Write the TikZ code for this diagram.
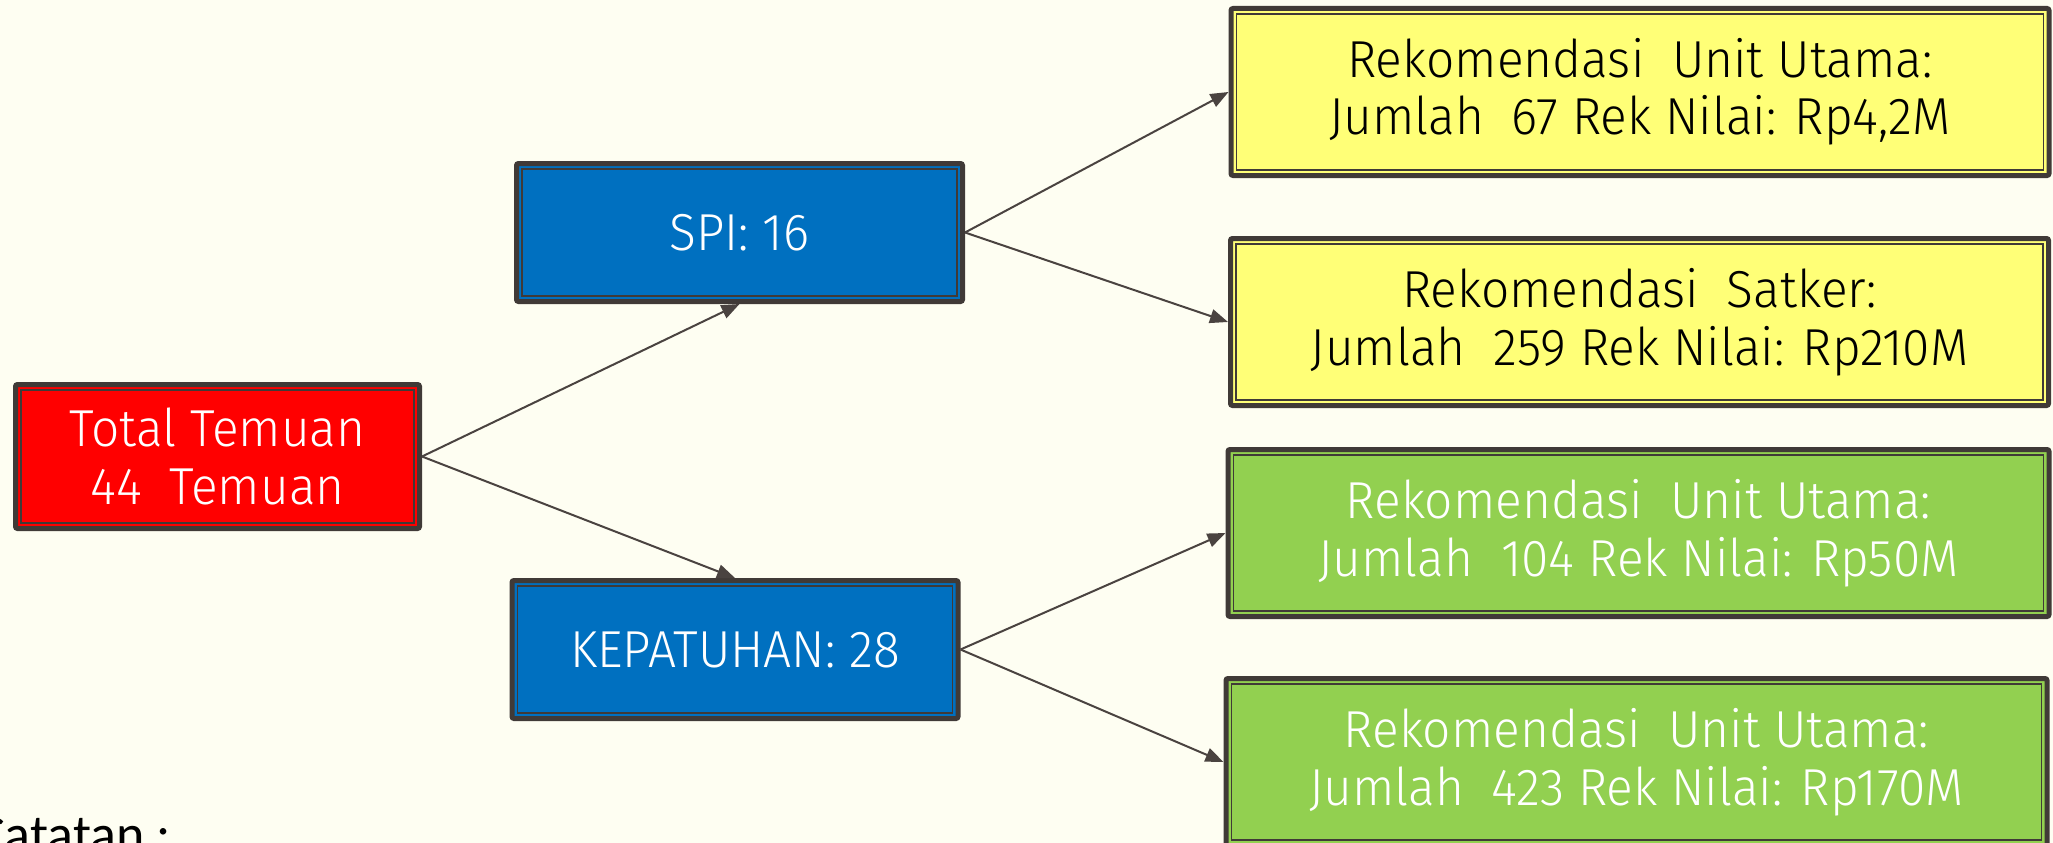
\documentclass[tikz,border=0pt]{standalone}
\usepackage{fontspec}
\newfontfamily\boxfont{Fira Sans Light}[FakeStretch=0.955]
\newfontfamily\notefont{Carlito}
\usetikzlibrary{arrows.meta}
\definecolor{bg}{HTML}{FEFEF2}
\definecolor{bdr}{HTML}{403A37}
\definecolor{arrc}{HTML}{4A4340}
\definecolor{redf}{HTML}{FF0000}
\definecolor{bluef}{HTML}{0070C0}
\definecolor{yelf}{HTML}{FFFF77}
\definecolor{grnf}{HTML}{92D050}
\tikzset{
  box/.style={draw=bdr, line width=5pt, outer sep=2.5pt, rounded corners=2pt,
    inner sep=0pt, align=center, font=\boxfont\fontsize{52}{57.5}\selectfont},
  redbox/.style={box, fill=redf, text=white, minimum width=404pt, minimum height=144pt},
  bluebox/.style={box, fill=bluef, text=white, minimum width=446pt, minimum height=138pt},
  yelbox/.style={box, fill=yelf, text=black, minimum width=818pt, minimum height=167pt},
  grnbox/.style={box, fill=grnf, text=white, minimum width=821pt, minimum height=167pt},
  innerframe/.style={draw=bdr, line width=1.8pt},
  arr/.style={draw=arrc, line width=2pt, -{Triangle[length=18pt,width=14pt]}},
  note/.style={font=\notefont\fontsize{54}{60}\selectfont, text=black, inner sep=0pt, anchor=base west}
}
\begin{document}
\begin{tikzpicture}[x=1pt,y=-1pt]
\useasboundingbox (0,0) rectangle (2053,843);
\clip (0,0) rectangle (2053,843);
\fill[bg] (0,0) rectangle (2053,843);

\node[redbox] (red) at (217.5,456.5) {Total Temuan\\44\ \ Temuan};
\node[bluebox] (spi) at (739.5,232.5) {SPI: 16};
\node[bluebox] (kep) at (735,649.5) {KEPATUHAN: 28};
\node[yelbox] (y1) at (1640,92) {Rekomendasi\ \ Unit Utama:\\Jumlah\ \ 67 Rek Nilai: Rp4,2M};
\node[yelbox] (y2) at (1639.5,322) {Rekomendasi\ \ Satker:\\Jumlah\ \ 259 Rek Nilai: Rp210M};
\node[grnbox] (g1) at (1638.5,533) {Rekomendasi\ \ Unit Utama:\\Jumlah\ \ 104 Rek Nilai: Rp50M};
\node[grnbox] (g2) at (1636.5,762) {Rekomendasi\ \ Unit Utama:\\Jumlah\ \ 423 Rek Nilai: Rp170M};

\foreach \n in {red,spi,kep,y1,y2,g1,g2}
  \draw[innerframe] ([shift={(8,8)}]\n.north west) rectangle ([shift={(-8,-8)}]\n.south east);

\draw[arr] (red.east) -- (spi.south);
\draw[arr] (red.east) -- (kep.north);
\draw[arr] (spi.east) -- (y1.west);
\draw[arr] (spi.east) -- (y2.west);
\draw[arr] (kep.east) -- (g1.west);
\draw[arr] (kep.east) -- (g2.west);

\node[note] (catatan) at (-24,852) {Catatan :};
\end{tikzpicture}
\end{document}
